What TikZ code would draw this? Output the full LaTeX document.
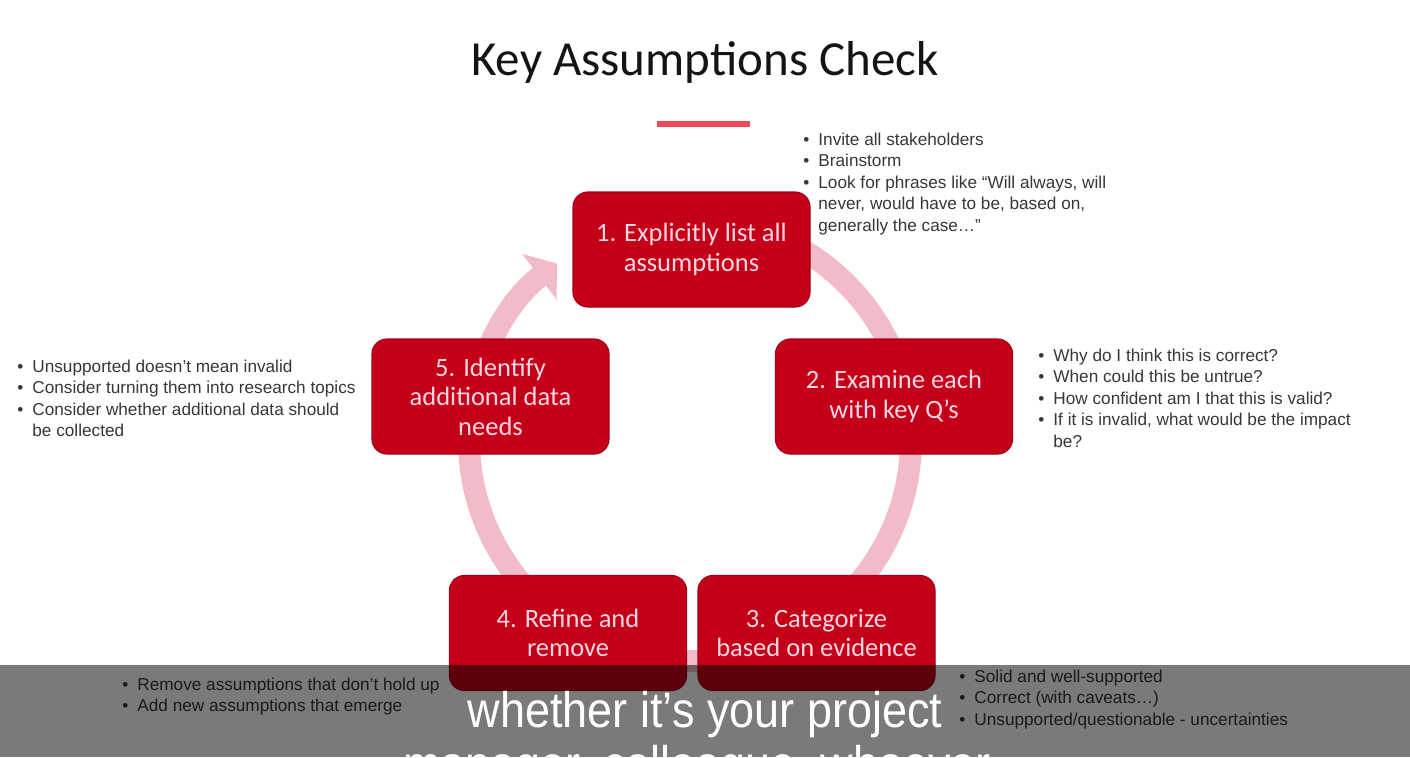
\documentclass[tikz,border=0pt]{standalone}
\usepackage{fontspec}
\setmainfont{Liberation Sans}
\newfontfamily\calfont{Carlito}
\usetikzlibrary{arrows.meta}

\definecolor{stepred}{RGB}{196,0,24}
\definecolor{stepedge}{RGB}{165,0,28}
\definecolor{steptext}{RGB}{255,214,228}
\definecolor{ringpink}{RGB}{241,188,199}
\definecolor{accent}{RGB}{240,72,90}
\definecolor{bullettext}{RGB}{55,55,55}

\newcommand{\bulletlist}[1]{%
  \begin{tabular}[t]{@{}l@{\hspace{4.5pt}}l@{}}#1\end{tabular}}

\begin{document}
\begin{tikzpicture}[x=0.5pt,y=-0.5pt,
  stepbox/.style={draw=stepedge, line width=0.6pt, fill=stepred,
    rounded corners=7.5pt, minimum width=118.5pt, minimum height=57.5pt,
    inner sep=0pt, text=steptext, align=center,
    font=\calfont\fontsize{13.25}{14.75}\selectfont},
  notes/.style={anchor=base west, inner sep=0pt, text=bullettext,
    font=\fontsize{8.6}{10.75}\selectfont},
  ring/.style={ringpink, line width=11pt,
    -{Triangle[width=28pt,length=11pt]}}]

\useasboundingbox (0,0) rectangle (1410,757);
\clip (0,0) rectangle (1410,757);
\fill[white] (0,0) rectangle (1410,757);

% title and accent bar
\node[anchor=base, inner sep=0pt, text={rgb,255:red,20;green,20;blue,20},
  font=\calfont\fontsize{24.5}{28}\selectfont] (title) at (705,75)
  {Key Assumptions Check};
\draw[accent, line width=3pt] (657,124) -- (750,124);

% cycle ring behind the steps
\coordinate (hub) at (690,440);
\draw[ring] (hub) ++(-85:221) arc[start angle=-85, end angle=233, radius=221];

% the five steps
\node[stepbox] (s1) at (691.5,249.5) {1. Explicitly list all\\assumptions};
\node[stepbox] (s2) at (894,396.5) {2. Examine each\\with key Q’s};
\node[stepbox] (s3) at (816.5,633) {3. Categorize\\based on evidence};
\node[stepbox] (s4) at (568,633) {4. Refine and\\remove};
\node[stepbox] (s5) at (490.5,396.5) {5. Identify\\additional data\\needs};

% notes beside each step
\node[notes] (n1) at (803,145) {\bulletlist{%
  • & Invite all stakeholders\\
  • & Brainstorm\\
  • & Look for phrases like “Will always, will\\
    & never, would have to be, based on,\\
    & generally the case…”}};
\node[notes] (n2) at (1038,361) {\bulletlist{%
  • & Why do I think this is correct?\\
  • & When could this be untrue?\\
  • & How confident am I that this is valid?\\
  • & If it is invalid, what would be the impact\\
    & be?}};
\node[notes] (n3) at (959,682) {\bulletlist{%
  • & Solid and well-supported\\
  • & Correct (with caveats…)\\
  • & Unsupported/questionable - uncertainties}};
\node[notes] (n4) at (122,690) {\bulletlist{%
  • & Remove assumptions that don’t hold up\\
  • & Add new assumptions that emerge}};
\node[notes] (n5) at (17,372) {\bulletlist{%
  • & Unsupported doesn’t mean invalid\\
  • & Consider turning them into research topics\\
  • & Consider whether additional data should\\
    & be collected}};

% caption band
\fill[black, opacity=0.52] (0,665) rectangle (1410,757);
\node[anchor=base, inner sep=0pt, text=white,
  font=\fontsize{25}{25}\selectfont] (cap1) at (705,727)
  {\scalebox{0.9}[1]{whether it's your project}};
\node[anchor=base, inner sep=0pt, text=white,
  font=\fontsize{25}{25}\selectfont] (cap2) at (697,781)
  {\scalebox{0.9}[1]{manager, colleague, whoever}};
\end{tikzpicture}
\end{document}
